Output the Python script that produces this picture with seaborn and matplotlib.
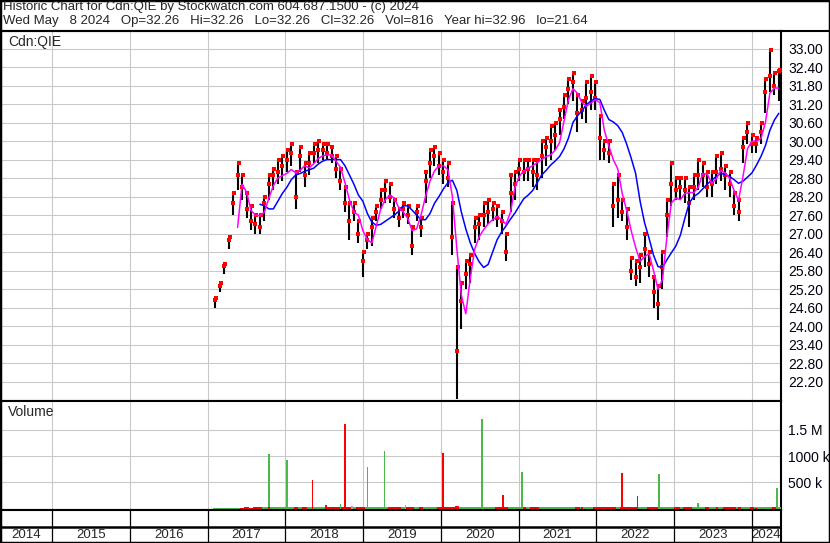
import numpy as np
import pandas as pd
import matplotlib
matplotlib.use('Agg')
import matplotlib.pyplot as plt
from matplotlib.lines import Line2D
from matplotlib.patches import Rectangle
import seaborn as sns

sns.set_style('white')
plt.rcParams['font.family'] = ['Liberation Sans', 'DejaVu Sans']

nan = float('nan')

# price bars every 3 weeks
bar_dates = pd.date_range('2017-02-06', periods=127, freq='21D')

lows = [24.6, 25.1, 25.7, 26.5, 27.6, 28.4, 28.1, 27.5, 27.1, 27.0,
        27.0, 27.4, 28.1, 28.4, 28.6, 28.7, 29.0, 29.2, 27.8, 29.0,
        28.5, 28.9, 29.3, 29.3, 29.4, 29.4, 29.3, 28.8, 28.4, 27.7,
        26.8, 27.4, 26.7, 25.6, 26.5, 26.6, 27.4, 27.8, 28.0, 28.0,
        27.5, 27.2, 27.5, 27.3, 26.3, 27.4, 26.9, 28.0, 28.8, 29.2,
        28.9, 28.6, 28.5, 26.3, 21.64, 23.9, 25.2, 25.4, 26.7, 26.8,
        27.2, 27.3, 27.4, 27.2, 27.0, 26.1, 27.7, 28.1, 28.7, 28.7,
        28.7, 28.5, 28.4, 28.8, 29.2, 29.4, 29.7, 30.2, 30.7, 31.2,
        31.3, 30.3, 30.7, 30.6, 31.0, 31.0, 29.4, 29.4, 29.3, 27.2,
        27.5, 27.4, 26.8, 25.5, 25.3, 25.4, 25.9, 25.6, 24.6, 24.2,
        25.2, 26.9, 27.9, 28.1, 28.1, 28.0, 27.2, 28.1, 28.4, 28.5,
        28.2, 28.2, 28.6, 28.7, 28.4, 28.2, 27.6, 27.4, 29.3, 29.9,
        29.6, 29.6, 29.9, 30.9, 31.6, 31.5, 31.3]

highs = [24.9, 25.4, 26.0, 26.9, 28.3, 29.3, 28.9, 28.3, 27.9, 27.6,
         27.6, 28.2, 28.9, 29.1, 29.4, 29.5, 29.7, 29.9, 29.0, 29.8,
         29.3, 29.6, 29.9, 30.0, 29.9, 29.9, 29.8, 29.5, 29.1, 28.5,
         28.0, 28.0, 27.4, 26.4, 27.0, 27.5, 27.9, 28.4, 28.7, 28.6,
         28.1, 27.8, 28.0, 27.9, 27.2, 27.9, 27.5, 29.0, 29.7, 29.8,
         29.6, 29.4, 29.3, 28.0, 25.9, 25.4, 26.1, 26.3, 27.5, 27.6,
         28.0, 28.1, 28.0, 27.9, 27.7, 27.0, 28.9, 29.0, 29.4, 29.4,
         29.4, 29.4, 29.4, 30.0, 30.1, 30.5, 30.6, 31.0, 31.5, 32.0,
         32.2, 31.5, 31.3, 31.9, 32.1, 31.9, 30.8, 30.0, 30.0, 28.6,
         28.9, 28.1, 27.8, 26.2, 26.1, 26.3, 27.0, 26.4, 25.6, 25.3,
         26.4, 28.1, 29.3, 28.8, 28.8, 28.8, 28.5, 28.9, 29.4, 29.3,
         29.0, 29.0, 29.5, 29.6, 29.2, 29.0, 28.3, 28.1, 30.1, 30.6,
         30.2, 30.1, 30.6, 32.0, 32.96, 32.2, 32.3]

closes = [24.85, 25.3, 25.95, 26.8, 28.0, 28.9, 28.5, 27.8, 27.4, 27.3,
          27.2, 28.0, 28.6, 28.9, 29.0, 29.2, 29.4, 29.6, 28.2, 29.5,
          28.9, 29.3, 29.6, 29.7, 29.7, 29.6, 29.5, 29.1, 28.7, 28.0,
          27.4, 27.7, 27.0, 26.1, 26.8, 27.2, 27.7, 28.1, 28.4, 28.2,
          27.8, 27.5, 27.8, 27.6, 26.6, 27.7, 27.2, 28.7, 29.3, 29.5,
          29.2, 29.0, 28.8, 26.9, 23.2, 24.8, 25.7, 26.0, 27.2, 27.3,
          27.6, 27.7, 27.8, 27.5, 27.4, 26.4, 28.3, 28.6, 29.1, 29.0,
          29.1, 29.0, 28.9, 29.5, 29.8, 30.0, 30.2, 30.7, 31.1, 31.7,
          31.9, 30.9, 31.0, 31.4, 31.6, 31.4, 30.1, 29.7, 29.6, 27.9,
          28.1, 27.7, 27.2, 25.8, 25.6, 25.9, 26.5, 26.0, 25.1, 24.7,
          25.9, 27.6, 28.6, 28.4, 28.5, 28.4, 28.0, 28.5, 28.9, 28.9,
          28.5, 28.6, 29.0, 29.1, 28.9, 28.6, 27.9, 27.7, 29.8, 30.3,
          29.9, 29.9, 30.3, 31.6, 32.1, 31.8, 32.26]

# moving averages (magenta = short, blue = long)
ma_short = [nan, nan, nan, nan, nan, 27.2, 28.6, 28.35, 27.75, 27.6,
            27.58, 27.7, 28.15, 28.55, 28.8, 28.88, 28.95, 29.08, 28.97, 29.06,
            29.2, 29.13, 29.26, 29.43, 29.52, 29.55, 29.55, 29.35, 29.15, 28.65,
            28.1, 27.7, 27.6, 27.1, 26.8, 26.7, 27.25, 27.8, 28.1, 28.25,
            28.15, 27.85, 27.7, 27.5, 27.1, 27.15, 27.6, 28.2, 28.7, 29.03,
            29.2, 29.2, 29.07, 28.2, 26.5, 25.0, 24.4, 25.55, 26.5, 26.9,
            27.13, 27.32, 27.45, 27.55, 27.46, 27.3, 27.7, 28.5, 28.85, 29.04,
            29.12, 29.2, 29.3, 29.4, 29.5, 29.55, 29.7, 29.95, 30.65, 31.35,
            31.7, 31.55, 31.25, 31.13, 31.23, 31.34, 31.25, 30.35, 29.85, 29.4,
            29.1, 28.3, 27.75, 27.1, 26.55, 26.1, 26.25, 26.35, 25.8, 25.2,
            25.5, 26.9, 28.0, 28.15, 28.1, 28.3, 28.33, 28.33, 28.5, 28.95,
            28.93, 28.63, 28.77, 29.04, 28.97, 28.8, 28.4, 28.08, 28.85, 29.75,
            30.0, 30.0, 30.08, 30.6, 31.55, 31.72, 31.72]

ma_long = [nan, nan, nan, nan, nan, nan, nan, nan, nan, nan,
           27.95, 27.9, 27.8, 27.8, 28.05, 28.3, 28.5, 28.75, 28.9, 28.95,
           29.02, 29.07, 29.12, 29.25, 29.35, 29.4, 29.4, 29.4, 29.4, 29.2,
           28.9, 28.6, 28.25, 28.05, 27.65, 27.37, 27.27, 27.3, 27.4, 27.5,
           27.6, 27.72, 27.9, 27.9, 27.76, 27.6, 27.45, 27.45, 27.65, 27.98,
           28.2, 28.45, 28.65, 28.73, 28.4, 27.7, 27.15, 26.7, 26.35, 26.08,
           25.9, 26.0, 26.4, 26.8, 27.05, 27.25, 27.47, 27.67, 27.9, 28.13,
           28.25, 28.4, 28.65, 28.9, 29.05, 29.22, 29.35, 29.5, 29.75, 30.1,
           30.6, 30.82, 30.98, 31.18, 31.3, 31.38, 31.35, 31.0, 30.7, 30.62,
           30.5, 30.28, 29.9, 29.45, 28.95, 28.05, 27.35, 26.85, 26.3, 25.93,
           25.9, 26.15, 26.38, 26.6, 26.95, 27.5, 28.0, 28.2, 28.3, 28.45,
           28.6, 28.73, 28.85, 28.95, 28.92, 28.85, 28.75, 28.63, 28.7, 28.83,
           28.97, 29.22, 29.5, 29.85, 30.35, 30.68, 30.9]

# everyday volume (thousands) at the same dates
vol_k = [8, 8, 10, 10, 14, 18, 22, 26, 22, 26,
         28, 24, 30, 24, 34, 28, 24, 32, 36, 28,
         24, 30, 28, 24, 32, 28, 34, 24, 28, 30,
         36, 32, 28, 34, 24, 28, 24, 30, 28, 24,
         32, 28, 24, 30, 34, 28, 24, 28, 32, 30,
         28, 34, 36, 38, 44, 34, 32, 28, 24, 30,
         28, 24, 32, 28, 24, 34, 28, 24, 30, 28,
         24, 28, 32, 28, 24, 30, 34, 28, 32, 24,
         28, 32, 28, 24, 30, 28, 34, 32, 28, 32,
         28, 24, 32, 34, 36, 32, 28, 30, 32, 28,
         34, 28, 24, 30, 28, 24, 32, 28, 30, 24,
         28, 32, 28, 24, 30, 28, 34, 32, 28, 30,
         32, 28, 30, 32, 28, 34, 32]

# single-day volume spikes (decimal year, thousands, direction)
spike_year = [2017.794, 2018.025, 2018.348, 2018.771, 2019.055, 2019.276, 2020.023,
              2020.529, 2020.799, 2021.043, 2022.325, 2022.527, 2022.802, 2024.321,
              2018.523, 2018.708, 2018.853, 2018.955, 2019.546, 2020.202, 2020.986,
              2021.574, 2021.814, 2023.057, 2023.303, 2023.547, 2023.807, 2024.049,
              2017.610, 2017.790, 2018.460, 2018.620, 2019.820]
spike_k = [1048, 933, 548, 1606, 798, 1106, 1067,
           1702, 260, 702, 683, 240, 663, 394,
           67, 86, 48, 30, 67, 25, 40,
           40, 40, 40, 100, 40, 40, 20,
           25, 25, 20, 18, 18]
spike_dir = ['up', 'up', 'down', 'down', 'up', 'up', 'down',
             'up', 'down', 'up', 'down', 'down', 'up', 'up',
             'down', 'up', 'flat', 'down', 'flat', 'down', 'up',
             'up', 'down', 'down', 'up', 'down', 'up', 'down',
             'down', 'down', 'up', 'down', 'up']

years = list(range(2014, 2025))
price_ticks = [22.2, 22.8, 23.4, 24.0, 24.6, 25.2, 25.8, 26.4, 27.0, 27.6,
               28.2, 28.8, 29.4, 30.0, 30.6, 31.2, 31.8, 32.4, 33.0]
vol_ticks = [500, 1000, 1500]
vol_labels = ['500 k', '1000 k', '1.5 M']

GREEN = '#4cb84c'
RED = '#ff0000'
dir_colors = {'up': GREEN, 'down': RED, 'flat': '#a8a8a8'}
GRID = '#c8c8c8'

df = pd.DataFrame({'date': bar_dates, 'low': lows, 'high': highs, 'close': closes,
                   'ma_short': ma_short, 'ma_long': ma_long, 'vol': vol_k})
df['yr'] = df['date'].dt.year + (df['date'].dt.dayofyear - 1) / 365.25
df['vcol'] = np.where(df['close'].diff().fillna(1) >= 0, GREEN, RED)

W, H = 830, 543
fig = plt.figure(figsize=(W / 100, H / 100), dpi=100)
XMIN, XMAX = 2014.331, 2024.373
axw = 781 / W

ax_p = fig.add_axes([0, 142 / H, axw, 370 / H])
ax_v = fig.add_axes([0, 33 / H, axw, 109 / H])
ax_y = fig.add_axes([0, 0, axw, 33 / H])

# price panel
ax_p.vlines(df['yr'], df['low'], df['high'], color='black', lw=1.5, zorder=3)
sns.scatterplot(x=df['yr'], y=df['close'], marker='s', color=RED, s=6,
                linewidth=0, ax=ax_p, zorder=4)
sns.scatterplot(x=df['yr'] + 0.012, y=df['high'], marker='s', color=RED, s=5,
                linewidth=0, ax=ax_p, zorder=4)
sns.lineplot(x=df['yr'], y=df['ma_long'], color='#0000ff', lw=1.1, ax=ax_p, zorder=5)
sns.lineplot(x=df['yr'], y=df['ma_short'], color='#ff00ff', lw=1.1, ax=ax_p, zorder=5)

ax_p.set_xlim(XMIN, XMAX)
ax_p.set_ylim(21.57, 33.57)
ax_p.set_yticks(price_ticks)
ax_p.set_yticklabels([f'{t:.2f}' for t in price_ticks])
ax_p.set_xticks(years[1:])
ax_p.set_xlabel('')
ax_p.set_ylabel('')
ax_p.text(8 / 781, 1 - 4 / 370, 'Cdn:QIE', transform=ax_p.transAxes,
          va='top', ha='left', fontsize=10)

# volume panel
ax_v.bar(df['yr'], df['vol'], width=21 / 365.25, color=df['vcol'], linewidth=0, zorder=3)
ax_v.bar(spike_year, spike_k, width=0.022, color=[dir_colors[d] for d in spike_dir],
         linewidth=0, zorder=4)
ax_v.set_xlim(XMIN, XMAX)
ax_v.set_ylim(-25, 2050)
ax_v.set_yticks(vol_ticks)
ax_v.set_yticklabels(vol_labels)
ax_v.set_xticks(years[1:])
ax_v.text(8 / 781, 1 - 4 / 109, 'Volume', transform=ax_v.transAxes,
          va='top', ha='left', fontsize=10)

for ax in (ax_p, ax_v):
    ax.grid(True, color=GRID, lw=0.75)
    ax.set_axisbelow(True)
    ax.tick_params(axis='x', length=0, labelbottom=False)
    ax.tick_params(axis='y', left=False, labelleft=False, right=True, labelright=True,
                   length=0, pad=5, labelsize=10, labelcolor='#000010')
    for side in ('top', 'bottom', 'right'):
        ax.spines[side].set_visible(True)
        ax.spines[side].set_color('black')
        ax.spines[side].set_linewidth(1.5)
    ax.spines['left'].set_visible(False)

# year strip
ax_y.set_xlim(XMIN, XMAX)
ax_y.set_ylim(0, 33)
ax_y.set_xticks([])
ax_y.set_yticks([])
ax_y.vlines(years[1:], 0, 33, color='black', lw=0.9)
ax_y.axhline(16.5, color='black', lw=1.8)
for yr in years:
    lo, hi = max(yr, XMIN), min(yr + 1, XMAX)
    ax_y.text((lo + hi) / 2, 7.5, str(yr), ha='center', va='center', fontsize=9.5)
for side in ('top', 'right'):
    ax_y.spines[side].set_color('black')
    ax_y.spines[side].set_linewidth(1.5)
ax_y.spines['left'].set_visible(False)
ax_y.spines['bottom'].set_visible(False)

# header
fig.text(3 / W, 1 - 1 / H, 'Historic Chart for Cdn:QIE by Stockwatch.com 604.687.1500 - (c) 2024',
         va='top', ha='left', fontsize=9.5)
fig.text(3 / W, 1 - 15 / H,
         'Wed May   8 2024   Op=32.26   Hi=32.26   Lo=32.26   Cl=32.26   Vol=816   Year hi=32.96   lo=21.64',
         va='top', ha='left', fontsize=9.5)
fig.add_artist(Line2D([0, 1], [1 - 31 / H] * 2, transform=fig.transFigure,
                      color='black', lw=1.5))
fig.add_artist(Rectangle((0, 0), 1, 1, transform=fig.transFigure, fill=False,
                         edgecolor='black', lw=2.5))

fig.savefig('out.png', dpi=100)
